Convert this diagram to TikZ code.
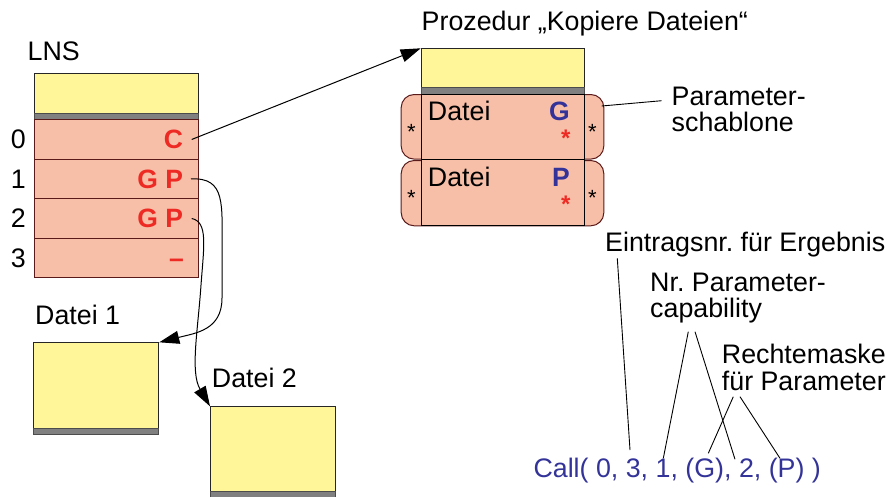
\documentclass[tikz,border=0pt]{standalone}
\usepackage{fontspec}
\setmainfont{Liberation Sans}
\usetikzlibrary{arrows.meta}
\definecolor{boxyellow}{HTML}{FFF599}
\definecolor{boxsalmon}{HTML}{F8BFA8}
\definecolor{bandgray}{HTML}{808080}
\definecolor{rowline}{HTML}{5A1A1A}
\definecolor{redtxt}{HTML}{EE2A24}
\definecolor{bluetxt}{HTML}{333399}
\tikzset{
  ybox/.style={draw=black!85, fill=boxyellow, line width=1pt, inner sep=0pt, anchor=north west},
  band/.style={draw=black!70, fill=bandgray, line width=0.8pt, inner sep=0pt, anchor=north west},
  srow/.style={draw=rowline, fill=boxsalmon, line width=1pt, inner sep=0pt, anchor=north west},
  pcell/.style={draw=black, fill=boxsalmon, line width=1pt, inner sep=0pt, anchor=north west},
  tabbox/.style={draw=rowline, fill=boxsalmon, line width=1pt, inner sep=0pt, anchor=north west, rounded corners=13pt},
  lbl/.style={font=\fontsize{26.8}{28}\selectfont, inner sep=0pt},
  rlbl/.style={font=\fontsize{26.5}{28}\selectfont\bfseries, text=redtxt, inner sep=0pt, anchor=base east},
  blbl/.style={font=\fontsize{26.5}{28}\selectfont\bfseries, text=bluetxt, inner sep=0pt, anchor=base east},
  rstar/.style={font=\fontsize{24}{26}\selectfont\bfseries, text=redtxt, inner sep=0pt, anchor=base},
  kstar/.style={font=\fontsize{22}{24}\selectfont, inner sep=0pt, anchor=base},
  arr/.style={-{Triangle[length=20pt,width=13pt]}, line width=1pt},
  leader/.style={line width=0.9pt}
}
\begin{document}
\frenchspacing
\begin{tikzpicture}[x=1pt,y=-1pt]
\useasboundingbox (0,0) rectangle (887,496);

% LNS
\node[lbl, anchor=base west] (lns) at (27.5,60.5) {LNS};
\node[ybox, minimum width=164pt, minimum height=40pt] (lnsY) at (33.5,73.3) {};
\node[band, minimum width=164pt, minimum height=6pt] (lnsB) at (33.5,113.3) {};
\node[srow, minimum width=164pt, minimum height=39.5pt] (r0) at (33.5,119.3) {};
\node[srow, minimum width=164pt, minimum height=39.5pt] (r1) at (33.5,158.8) {};
\node[srow, minimum width=164pt, minimum height=39.5pt] (r2) at (33.5,198.3) {};
\node[srow, minimum width=164pt, minimum height=39.5pt] (r3) at (33.5,237.8) {};

\node[lbl, anchor=base] (n0) at (18.3,148.6) {0};
\node[lbl, anchor=base] (n1) at (18.3,188.1) {1};
\node[lbl, anchor=base] (n2) at (18.3,227.6) {2};
\node[lbl, anchor=base] (n3) at (18.3,267.1) {3};

\node[rlbl] (c0) at (183.3,148.6) {C};
\node[rlbl] (gp1) at (183.3,188.1) {G P};
\node[rlbl] (gp2) at (183.3,227.6) {G P};
\node[rlbl] (d3) at (184,267.1) {–};

% Files
\node[lbl, anchor=base west] (f1l) at (35,324.3) {Datei 1};
\node[ybox, minimum width=125pt, minimum height=85.4pt] (f1) at (33.3,342.3) {};
\node[band, minimum width=125pt, minimum height=6.6pt] (f1b) at (33.3,427.7) {};

\node[lbl, anchor=base west] (f2l) at (211.7,387) {Datei 2};
\node[ybox, minimum width=125pt, minimum height=85pt] (f2) at (210,406.3) {};
\node[band, minimum width=125pt, minimum height=6.6pt] (f2b) at (210,491.3) {};

% Procedure
\node[lbl, anchor=base west] (ptitle) at (421.5,30.8) {Prozedur „Kopiere Dateien“};
\node[ybox, minimum width=163.6pt, minimum height=39pt] (pY) at (420.7,48.3) {};
\node[band, minimum width=163.6pt, minimum height=6.4pt] (pB) at (420.7,87.3) {};
\node[tabbox, minimum width=202.6pt, minimum height=64.6pt] (t1) at (400.7,94) {};
\node[tabbox, minimum width=202.6pt, minimum height=65.3pt] (t2) at (400.7,160) {};
\node[pcell, minimum width=163.6pt, minimum height=65.6pt] (p1) at (420.7,93.7) {};
\node[pcell, minimum width=163.6pt, minimum height=66pt] (p2) at (420.7,159.3) {};

\node[lbl, anchor=base west] (dt1) at (427.7,120.5) {Datei};
\node[lbl, anchor=base west] (dt2) at (427.7,186.3) {Datei};
\node[blbl] (pg) at (570,120.5) {G};
\node[blbl] (pp) at (570,186.3) {P};
\node[rstar] (rs1) at (565.7,146.5) {*};
\node[rstar] (rs2) at (565.7,212.5) {*};
\node[kstar] (ks1) at (411.5,139.5) {*};
\node[kstar] (ks2) at (592.5,139.5) {*};
\node[kstar] (ks3) at (411.5,205.5) {*};
\node[kstar] (ks4) at (592.5,205.5) {*};

% Parameterschablone
\node[lbl, anchor=base west] (ps1) at (671.5,105) {Parameter-};
\node[lbl, anchor=base west] (ps2) at (671.5,131.7) {schablone};
\coordinate (psA) at (601.7,106);
\coordinate (psB) at (661.7,100.7);
\draw[leader] (psA) -- (psB);

% Connectors
\coordinate (cS) at ([xshift=8.4pt]c0.east);
\draw[arr] (cS) -- (pY.north west);

\coordinate (g1S) at ([xshift=7.7pt]gp1.east);
\draw[arr] (g1S) .. controls (226,177) and (222,205) .. (222,250)
  -- (222,298) .. controls (222,330) and (196,333) .. (f1.north east);

\coordinate (g2S) at ([xshift=8.4pt]gp2.east);
\draw[arr] (g2S) .. controls (208,222) and (204,245) .. (201,285)
  .. controls (198,330) and (190,372) .. (f2.north west);

% Call
\node[lbl, anchor=base west] (eintr) at (605,251.5) {Eintragsnr. für Ergebnis};
\node[lbl, anchor=base west] (nrp1) at (650,291) {Nr. Parameter-};
\node[lbl, anchor=base west] (nrp2) at (650,317.7) {capability};
\node[lbl, anchor=base west] (rm1) at (721.7,363.3) {Rechtemaske};
\node[lbl, anchor=base west] (rm2) at (721.7,390) {für Parameter};
\node[lbl, anchor=base west, text=bluetxt] (call) at (533.3,477) {Call( 0, 3, 1, (G), 2, (P) )};

\coordinate (eA) at (617.3,258.3);
\coordinate (eB) at (630,450);
\draw[leader] (eA) -- (eB);
\coordinate (nA) at (688.3,331.7);
\coordinate (nB) at (663.3,458.3);
\coordinate (nC) at (695,331.7);
\coordinate (nD) at (735,459.3);
\draw[leader] (nA) -- (nB);
\draw[leader] (nC) -- (nD);
\coordinate (rA) at (733.3,396.7);
\coordinate (rB) at (708.3,453.3);
\coordinate (rC) at (740,396.7);
\coordinate (rD) at (780,458.3);
\draw[leader] (rA) -- (rB);
\draw[leader] (rC) -- (rD);
\end{tikzpicture}
\end{document}
